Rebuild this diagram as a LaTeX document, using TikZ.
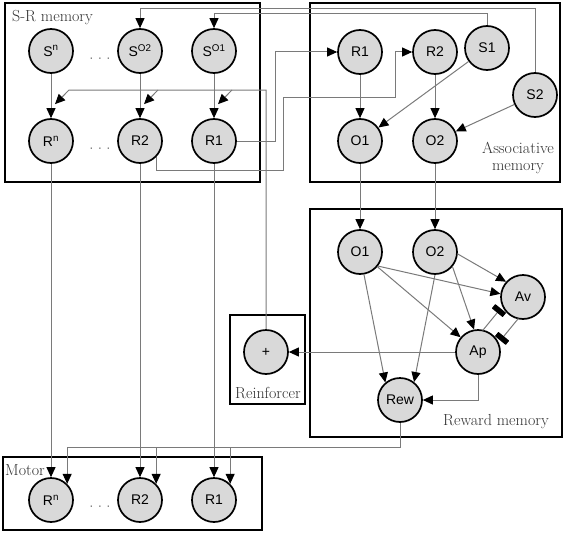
\documentclass[tikz,border=0pt]{standalone}
\usepackage{fontspec}
\setsansfont{Liberation Sans}
\usetikzlibrary{arrows.meta,calc}
\begin{document}
\begin{tikzpicture}[x=1pt,y=-1pt]
\tikzset{
  nd/.style={circle, draw=black, line width=1.7pt, fill=gray!30, minimum size=44pt, inner sep=0pt, font=\sffamily\fontsize{14}{15}\selectfont},
  frame/.style={draw=black, line width=2.4pt, inner sep=0pt},
  lab/.style={font=\fontsize{16}{17}\selectfont, text=black!80, inner sep=0pt},
  dotsn/.style={font=\sffamily\fontsize{14}{15}\selectfont, text=black!50, inner sep=0pt},
  con/.style={draw=black!52, line width=1pt},
  arr/.style={con, -{Triangle[length=10pt,width=9pt,color=black]}},
  inh/.style={con, -{Rectangle[length=5.5pt,width=14pt,color=black,round]}, shorten <=19.6pt, shorten >=23pt},
}
\useasboundingbox (0,0) rectangle (567,535);
% frames
\node[frame, minimum width=255pt, minimum height=179pt] (srbox) at (132.5,92.5) {};
\node[frame, minimum width=250pt, minimum height=179pt] (asbox) at (435,92.5) {};
\node[frame, minimum width=252pt, minimum height=228pt] (rwbox) at (436,323) {};
\node[frame, minimum width=75pt, minimum height=89pt] (rfbox) at (267.5,359.5) {};
\node[frame, minimum width=259pt, minimum height=73pt] (mobox) at (132.5,493.5) {};
% labels
\node[lab, anchor=west] (lsr) at (12,18) {S-R memory};
\node[lab, align=center] (las) at (518,158) {Associative\\memory};
\node[lab] (lrw) at (496,422) {Reward memory};
\node[lab] (lrf) at (268,393) {Reinforcer};
\node[lab, anchor=west] (lmo) at (5,470) {Motor};
% S-R memory nodes
\node[nd] (Sn) at (51,51) {S\textsuperscript{n}};
\node[nd] (SO2) at (140,51) {S\textsuperscript{O2}};
\node[nd] (SO1) at (214,51) {S\textsuperscript{O1}};
\node[nd] (Rn) at (51,141) {R\textsuperscript{n}};
\node[nd] (R2) at (140,141) {R2};
\node[nd] (R1) at (214,141) {R1};
\node[dotsn] (d1) at (100,60) {\textperiodcentered\ \textperiodcentered\ \textperiodcentered};
\node[dotsn] (d2) at (100,150) {\textperiodcentered\ \textperiodcentered\ \textperiodcentered};
% associative memory nodes
\node[nd] (aR1) at (360,52) {R1};
\node[nd] (aR2) at (435,52) {R2};
\node[nd] (S1) at (487,48) {S1};
\node[nd] (S2) at (535,95) {S2};
\node[nd] (aO1) at (360,141) {O1};
\node[nd] (aO2) at (435,141) {O2};
% reward memory nodes
\node[nd] (rO1) at (360,252) {O1};
\node[nd] (rO2) at (435,252) {O2};
\node[nd] (Av) at (523,297) {Av};
\node[nd] (Ap) at (478,352) {Ap};
\node[nd] (Rew) at (400,400) {Rew};
% reinforcer
\node[nd] (plus) at (266,352) {+};
% motor nodes
\node[nd] (mRn) at (51,500) {R\textsuperscript{n}};
\node[nd] (mR2) at (140,500) {R2};
\node[nd] (mR1) at (214,500) {R1};
\node[dotsn] (d3) at (100,508) {\textperiodcentered\ \textperiodcentered\ \textperiodcentered};
% helper coordinates
\coordinate (ty1) at (0,9);
\coordinate (ty2) at (0,14);
\coordinate (ry) at (0,90);
\coordinate (x1) at (275,0);
\coordinate (r2a) at (283,170);
\coordinate (r2b) at (395,97);
\coordinate (rwy) at (0,447);
% S-R memory internal
\draw[arr] (Sn) -- (Rn);
\draw[arr] (SO2) -- (R2);
\draw[arr] (SO1) -- (R1);
% S-R to motor
\draw[arr] (Rn) -- (mRn);
\draw[arr] (R2) -- (mR2);
\draw[arr] (R1) -- (mR1);
% associative stimuli back to S-R
\draw[arr] (S2.north) |- (SO2.north |- ty1) -- (SO2.north);
\draw[arr] (S1.north) |- (SO1.north |- ty2) -- (SO1.north);
% responses to associative memory
\draw[arr] (R1.east) -- (x1 |- R1.east) |- (aR1.west);
\draw[arr] (R2.south east) |- (r2a) |- (r2b) |- (aR2.west);
% reinforcer to S-R responses
\draw[arr] (plus.north) |- ($(Rn |- ry)+(18,0)$) -- ($(Rn.north)+(4,-14)$);
\draw[arr] ($(R2 |- ry)+(18,0)$) -- ($(R2.north)+(4,-14)$);
\draw[arr] ($(R1 |- ry)+(18,0)$) -- ($(R1.north)+(4,-14)$);
% associative memory internal
\draw[arr] (aR1) -- (aO1);
\draw[arr] (aR2) -- (aO2);
\draw[arr] (S1) -- (aO1);
\draw[arr] (S2) -- (aO2);
% associative to reward
\draw[arr] (aO1) -- (rO1);
\draw[arr] (aO2) -- (rO2);
% reward memory internal
\draw[arr] (rO1.-38) -- (Av.172);
\draw[arr] (rO1) -- (Ap);
\draw[arr] (rO1.-80) -- (Rew.130);
\draw[arr] (rO2.-5) -- (Av.138);
\draw[arr] (rO2.-40) -- (Ap.100);
\draw[arr] (rO2.south) -- (Rew.52);
\draw[arr] (Ap.south) |- (Rew.east);
\draw[arr] (Ap) -- (plus);
\draw[inh] ($(Ap)!10pt!90:(Av)$) -- ($(Av)!10pt!-90:(Ap)$);
\draw[inh] ($(Av)!10pt!90:(Ap)$) -- ($(Ap)!10pt!-90:(Av)$);
% reward to motor
\draw[arr] (Rew.south) |- (mRn.north east |- rwy) -- (mRn.north east);
\draw[arr] (mR2.north east |- rwy) -- (mR2.north east);
\draw[arr] (mR1.north east |- rwy) -- (mR1.north east);
\end{tikzpicture}
\end{document}
